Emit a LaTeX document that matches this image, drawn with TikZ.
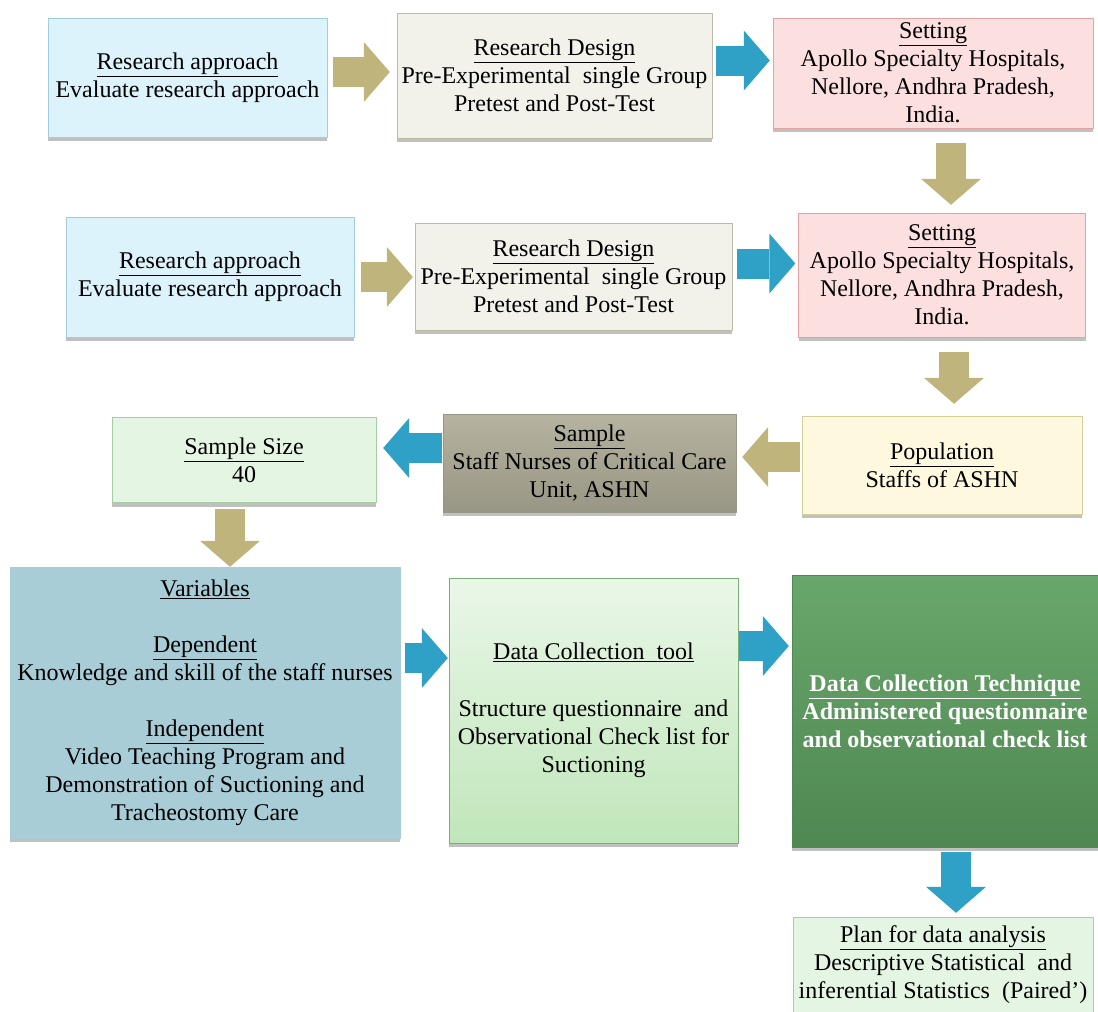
\documentclass[tikz,border=0pt]{standalone}
\usepackage{tikz}
\usepackage{fontspec}
\setmainfont{Liberation Serif}
\usetikzlibrary{arrows.meta}
\usetikzlibrary{shadows}
\definecolor{skyfill}{RGB}{221,243,251}
\definecolor{skyline}{RGB}{160,205,220}
\definecolor{sandfill}{RGB}{242,241,234}
\definecolor{sandline}{RGB}{190,186,165}
\definecolor{rosefill}{RGB}{252,224,224}
\definecolor{roseline}{RGB}{230,160,160}
\definecolor{mintfill}{RGB}{229,245,227}
\definecolor{mintline}{RGB}{165,205,160}
\definecolor{creamfill}{RGB}{254,248,223}
\definecolor{creamline}{RGB}{215,205,155}
\definecolor{taupetop}{RGB}{182,179,160}
\definecolor{taupebot}{RGB}{152,150,132}
\definecolor{steelfill}{RGB}{169,205,215}
\definecolor{leaftop}{RGB}{234,247,232}
\definecolor{leafbot}{RGB}{192,230,186}
\definecolor{leafline}{RGB}{120,175,118}
\definecolor{foresttop}{RGB}{104,167,107}
\definecolor{forestbot}{RGB}{80,135,82}
\definecolor{arrowtan}{RGB}{190,180,124}
\definecolor{arrowblue}{RGB}{47,160,198}
\tikzset{
  box/.style={rectangle, draw, align=center, inner sep=2pt,
    font=\rmfamily\fontsize{24}{28}\selectfont,
    drop shadow={shadow xshift=0pt, shadow yshift=-4pt, fill=black!45, opacity=0.55}},
  tanarrow/.style={draw=arrowtan, line width=30pt,
    -{Triangle[length=26pt, width=60pt, line width=0pt]}},
  bluearrow/.style={draw=arrowblue, line width=30pt,
    -{Triangle[length=26pt, width=60pt, line width=0pt]}}
}

\begin{document}
\begin{tikzpicture}[x=1pt, y=-1pt, line join=round]
\useasboundingbox (0,0) rectangle (1098,1012);
\clip (0,0) rectangle (1098,1012);
\node[box, fill=skyfill, draw=skyline, minimum width=279pt, minimum height=119pt] (r1a) at (187.5,77.5) {\underline{Research approach}\\Evaluate research approach};
\node[box, fill=sandfill, draw=sandline, minimum width=315pt, minimum height=125pt] (r1b) at (554.5,75.5) {\underline{Research Design}\\Pre-Experimental~ single Group\\Pretest and Post-Test};
\node[box, fill=rosefill, draw=roseline, minimum width=320pt, minimum height=110pt] (r1c) at (933,73) {\underline{Setting}\\Apollo Specialty Hospitals,\\Nellore, Andhra Pradesh,\\India.};
\node[box, fill=skyfill, draw=skyline, minimum width=288pt, minimum height=120pt] (r2a) at (210,277) {\underline{Research approach}\\Evaluate research approach};
\node[box, fill=sandfill, draw=sandline, minimum width=317pt, minimum height=107pt] (r2b) at (573.5,276.5) {\underline{Research Design}\\Pre-Experimental~ single Group\\Pretest and Post-Test};
\node[box, fill=rosefill, draw=roseline, minimum width=287pt, minimum height=124pt] (r2c) at (942,275) {\underline{Setting}\\Apollo Specialty Hospitals,\\Nellore, Andhra Pradesh,\\India.};
\node[box, fill=creamfill, draw=creamline, minimum width=280pt, minimum height=98pt] (pop) at (942,465) {\underline{Population}\\Staffs of ASHN};
\node[box, top color=taupetop, bottom color=taupebot, draw=taupebot, minimum width=293pt, minimum height=98pt] (smp) at (589.5,463) {\underline{Sample}\\Staff Nurses of Critical Care\\Unit, ASHN};
\node[box, fill=mintfill, draw=mintline, minimum width=264pt, minimum height=85pt] (ssz) at (244,460) {\underline{Sample Size}\\40};
\node[box, fill=steelfill, draw=steelfill, minimum width=390pt, minimum height=271pt] (var) at (205,702.5) {\underline{Variables}\\[28pt]\underline{Dependent}\\Knowledge and skill of the staff nurses\\[28pt]\underline{Independent}\\Video Teaching Program and\\Demonstration of Suctioning and\\Tracheostomy Care};
\node[box, top color=leaftop, bottom color=leafbot, draw=leafline, minimum width=289pt, minimum height=265pt] (tool) at (593.5,710.5) {\underline{Data Collection~ tool}\\[29pt]Structure questionnaire~ and\\Observational Check list for\\Suctioning};
\node[box, top color=foresttop, bottom color=forestbot, draw=forestbot, text=white, font=\rmfamily\fontsize{24}{28}\selectfont\bfseries, minimum width=306pt, minimum height=272pt] (tech) at (945,711) {\underline{Data Collection Technique}\\Administered questionnaire\\and observational check list};
\node[box, fill=mintfill, draw=mintline, minimum width=300pt, minimum height=96pt] (plan) at (943,965) {\underline{Plan for data analysis}\\Descriptive Statistical~ and\\inferential Statistics~ (Paired')};
\draw[tanarrow, shorten <=6pt, shorten >=7pt] ([yshift=5.5pt]r1a.east) -- ([yshift=5.5pt]r1a.east -| r1b.west);
\draw[bluearrow, shorten <=4pt, shorten >=3pt] ([yshift=15pt]r1b.east) -- ([yshift=15pt]r1b.east -| r1c.west);
\draw[tanarrow, shorten <=15pt, shorten >=8pt] ([xshift=18pt]r1c.south) -- ([xshift=18pt]r1c.south |- r2c.north);
\draw[tanarrow, shorten <=7pt, shorten >=2pt] (r2a.east) -- (r2a.east -| r2b.west);
\draw[bluearrow, shorten <=5pt, shorten >=3pt] ([yshift=13pt]r2b.east) -- ([yshift=13pt]r2b.east -| r2c.west);
\draw[tanarrow, shorten <=15pt, shorten >=12pt] ([xshift=12pt]r2c.south) -- ([xshift=12pt]r2c.south |- pop.north);
\draw[tanarrow, shorten <=2pt, shorten >=6pt] ([yshift=8pt]pop.west) -- ([yshift=8pt]pop.west -| smp.east);
\draw[bluearrow, shorten <=1pt, shorten >=7pt] ([yshift=15pt]smp.west) -- ([yshift=15pt]smp.west -| ssz.east);
\draw[tanarrow, shorten <=6pt] ([xshift=-14pt]ssz.south) -- ([xshift=-14pt]ssz.south |- var.north);
\draw[bluearrow, shorten <=5pt, shorten >=1pt] ([yshift=44.5pt]var.east) -- ([yshift=44.5pt]var.east -| tool.west);
\draw[bluearrow, shorten <=1pt, shorten >=3pt] ([yshift=64.5pt]tool.east) -- ([yshift=64.5pt]tool.east -| tech.west);
\draw[bluearrow, shorten <=5pt, shorten >=4pt] ([xshift=11pt]tech.south) -- ([xshift=11pt]tech.south |- plan.north);
\end{tikzpicture}
\end{document}
